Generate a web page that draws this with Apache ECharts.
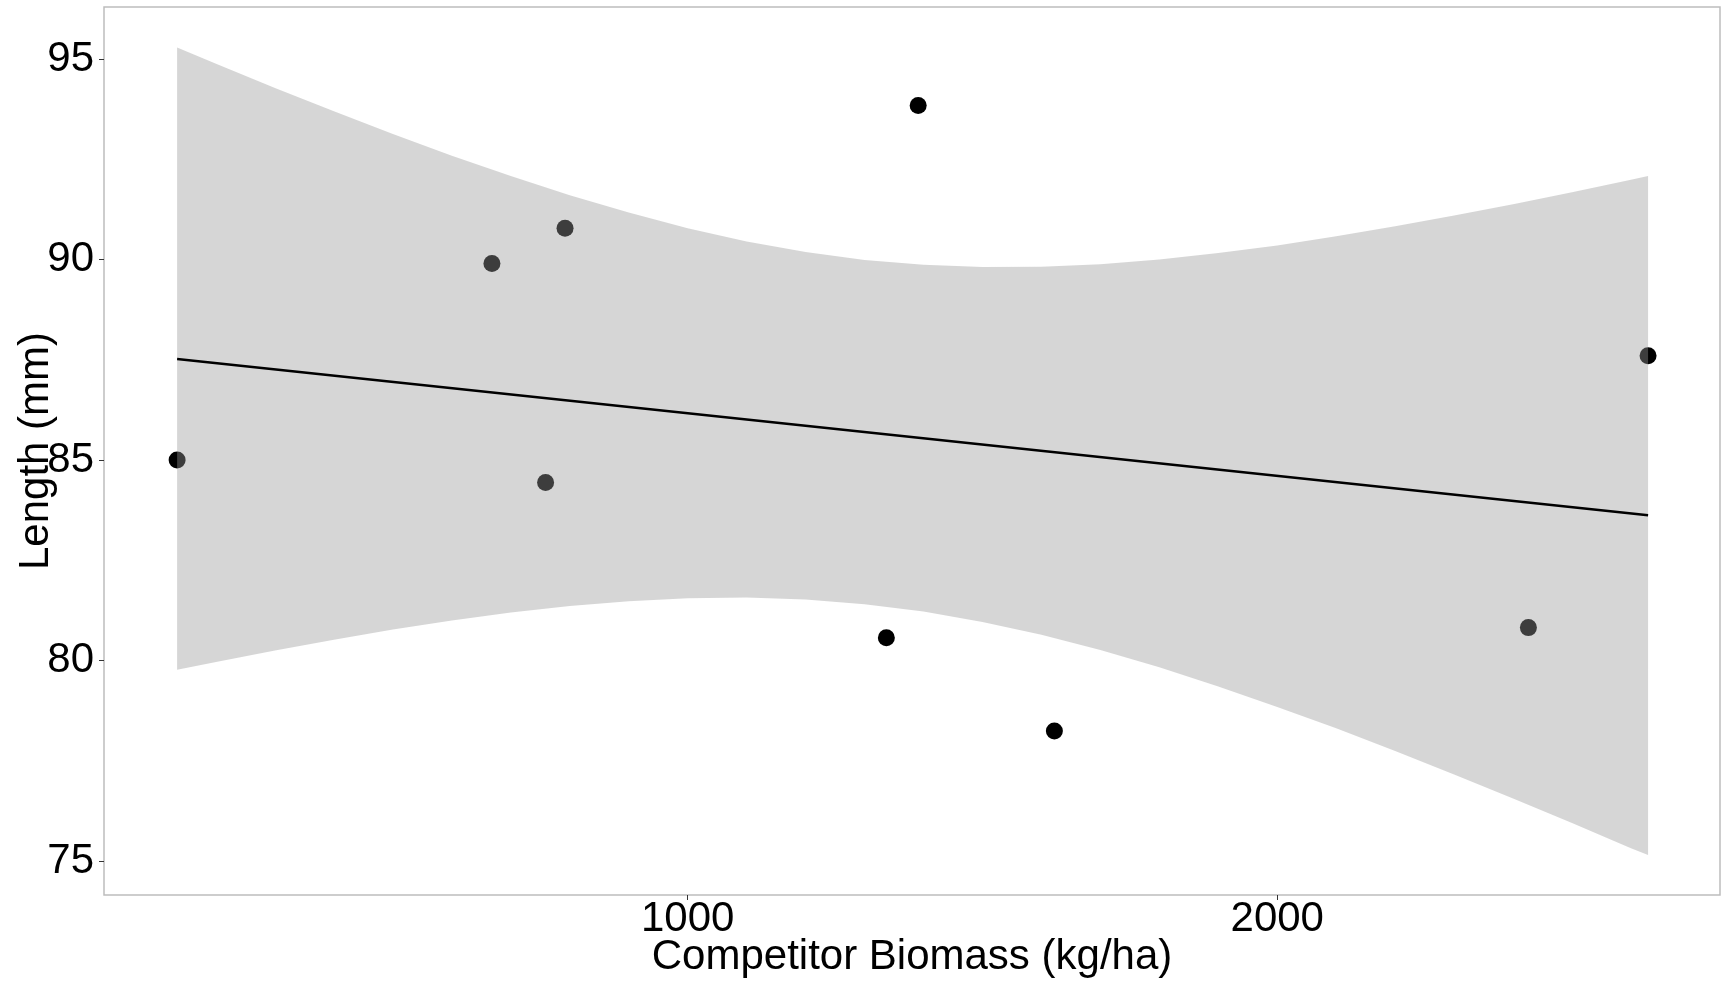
<!DOCTYPE html>
<html>
<head>
<meta charset="utf-8">
<script src="https://cdn.jsdelivr.net/npm/echarts@6/dist/echarts.min.js"></script>
<style>
html,body{margin:0;padding:0;background:#fff;}
#chart{width:1721px;height:981px;}
</style>
</head>
<body>
<div id="chart"></div>
<script>
// Observed points
const biomass = [134, 668, 792, 759, 1391, 1337, 1622, 2426, 2629];
const lengthMm = [85.0, 89.90, 90.78, 84.44, 93.84, 80.57, 78.24, 80.82, 87.60];

// Fitted line endpoints
const fitX = [134, 2629];
const fitY = [87.52, 83.62];

// Confidence band edges
const bandX = [134, 200, 300, 400, 500, 600, 700, 800, 900, 1000, 1100, 1200, 1300, 1400, 1500, 1600, 1700, 1800, 1900, 2000, 2100, 2200, 2300, 2400, 2500, 2600, 2629];
const bandUpper = [95.29, 94.88, 94.28, 93.70, 93.13, 92.59, 92.08, 91.60, 91.17, 90.78, 90.45, 90.19, 89.99, 89.87, 89.81, 89.82, 89.88, 90.00, 90.16, 90.35, 90.58, 90.83, 91.10, 91.38, 91.68, 91.99, 92.08];
const bandLower = [79.77, 79.96, 80.25, 80.52, 80.77, 81.00, 81.20, 81.36, 81.48, 81.55, 81.57, 81.52, 81.40, 81.22, 80.96, 80.64, 80.26, 79.83, 79.35, 78.84, 78.31, 77.74, 77.16, 76.56, 75.95, 75.32, 75.15];

// Tick labels
const xTicks = [1000, 2000];
const yTicks = [75, 80, 85, 90, 95];

const FONT = 'Liberation Sans, Arial, sans-serif';
const FS = 42;
const chart = echarts.init(document.getElementById('chart'), null, {renderer: 'canvas'});

const option = {
  backgroundColor: '#ffffff',
  animation: false,
  grid: {
    left: 104, top: 7, right: 1, bottom: 86,
    outerBoundsMode: 'none',
    containLabel: false,
    show: true, borderColor: '#bdbdbd', borderWidth: 1.5, backgroundColor: '#ffffff'
  },
  xAxis: {
    type: 'value',
    min: 10, max: 2751,
    name: 'Competitor Biomass (kg/ha)',
    nameLocation: 'middle',
    nameMoveOverlap: false,
    nameGap: 41,
    nameTextStyle: {fontFamily: FONT, fontSize: FS, color: '#000'},
    axisLine: {show: false},
    splitLine: {show: false},
    axisTick: {show: true, length: 5, lineStyle: {color: '#333', width: 1}, customValues: xTicks},
    axisLabel: {fontFamily: FONT, fontSize: FS, color: '#000', margin: 3, customValues: xTicks,
      formatter: v => String(v)}
  },
  yAxis: {
    type: 'value',
    min: 74.152, max: 96.297,
    name: 'Length (mm)',
    nameLocation: 'middle',
    nameMoveOverlap: false,
    nameGap: 47,
    nameRotate: 90,
    nameTextStyle: {fontFamily: FONT, fontSize: FS, color: '#000'},
    axisLine: {show: false},
    splitLine: {show: false},
    axisTick: {show: true, length: 5, lineStyle: {color: '#333', width: 1}, customValues: yTicks},
    axisLabel: {fontFamily: FONT, fontSize: FS, color: '#000', margin: 10, customValues: yTicks,
      formatter: v => String(v)}
  },
  series: [
    {
      type: 'scatter',
      z: 2,
      symbol: 'circle',
      symbolSize: 17,
      itemStyle: {color: '#000000', opacity: 1},
      data: biomass.map((x, i) => [x, lengthMm[i]]),
      silent: true
    },
    {
      type: 'custom',
      z: 3,
      silent: true,
      data: [[bandX[0], bandUpper[0]]],
      renderItem: function (params, api) {
        const pts = [];
        for (let i = 0; i < bandX.length; i++) pts.push(api.coord([bandX[i], bandUpper[i]]));
        for (let i = bandX.length - 1; i >= 0; i--) pts.push(api.coord([bandX[i], bandLower[i]]));
        return {
          type: 'polygon',
          shape: {points: pts},
          style: {fill: 'rgba(153,153,153,0.4)', stroke: null}
        };
      }
    },
    {
      type: 'line',
      z: 4,
      symbol: 'none',
      lineStyle: {color: '#000', width: 2.5},
      data: fitX.map((x, i) => [x, fitY[i]]),
      silent: true
    }
  ]
};
chart.setOption(option);
</script>
</body>
</html>
